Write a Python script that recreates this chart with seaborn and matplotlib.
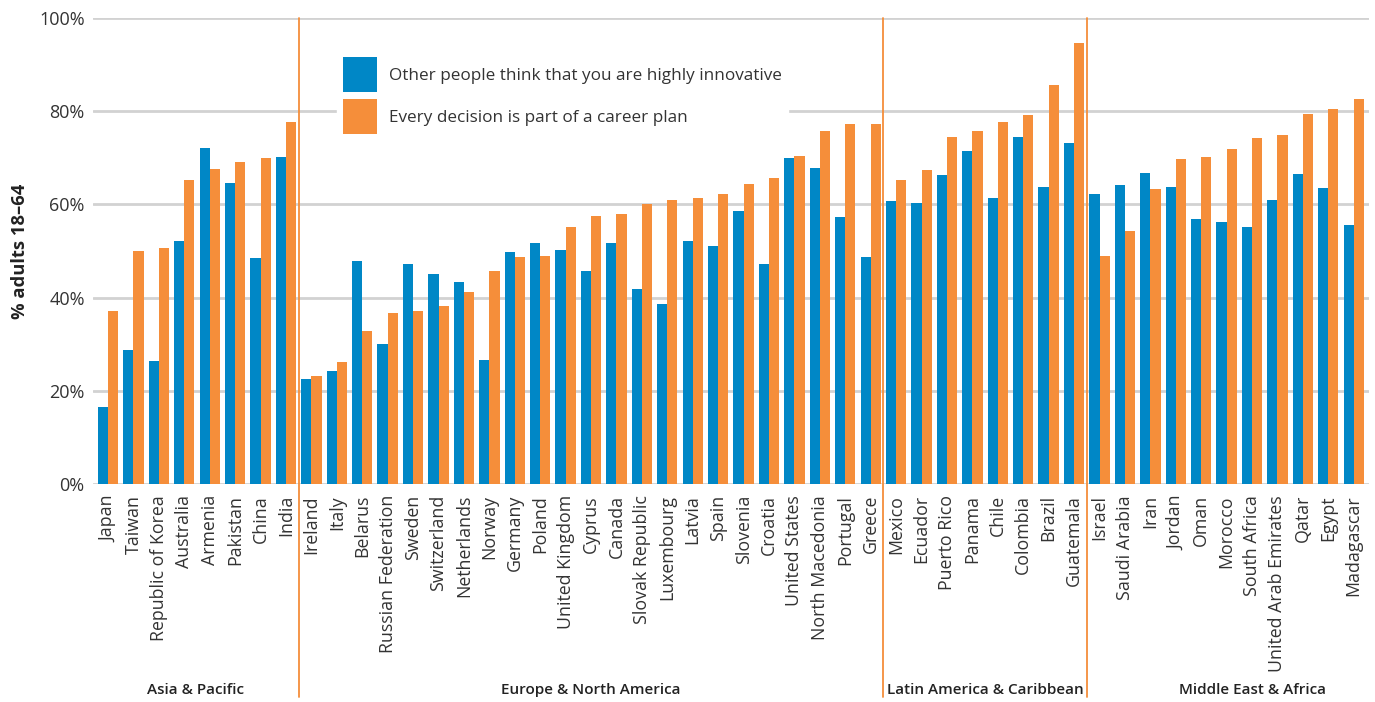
import matplotlib
matplotlib.use("Agg")
import matplotlib.pyplot as plt
import seaborn as sns
import pandas as pd

countries = ["Japan", "Taiwan", "Republic of Korea", "Australia", "Armenia", "Pakistan", "China", "India",
             "Ireland", "Italy", "Belarus", "Russian Federation", "Sweden", "Switzerland", "Netherlands",
             "Norway", "Germany", "Poland", "United Kingdom", "Cyprus", "Canada", "Slovak Republic",
             "Luxembourg", "Latvia", "Spain", "Slovenia", "Croatia", "United States", "North Macedonia",
             "Portugal", "Greece",
             "Mexico", "Ecuador", "Puerto Rico", "Panama", "Chile", "Colombia", "Brazil", "Guatemala",
             "Israel", "Saudi Arabia", "Iran", "Jordan", "Oman", "Morocco", "South Africa",
             "United Arab Emirates", "Qatar", "Egypt", "Madagascar"]

innovative = [16.6, 28.8, 26.4, 52.1, 72.1, 64.6, 48.5, 70.1,
              22.6, 24.3, 47.9, 30.1, 47.2, 45.1, 43.4, 26.6, 49.8, 51.7, 50.2, 45.7, 51.7, 41.9,
              38.6, 52.1, 51.1, 58.6, 47.2, 69.9, 67.8, 57.3, 48.7,
              60.7, 60.3, 66.3, 71.4, 61.4, 74.4, 63.7, 73.1,
              62.2, 64.1, 66.7, 63.7, 56.9, 56.2, 55.1, 60.9, 66.5, 63.5, 55.6]

career_plan = [37.1, 50.0, 50.6, 65.2, 67.6, 69.1, 69.9, 77.6,
               23.2, 26.2, 32.9, 36.7, 37.1, 38.2, 41.2, 45.7, 48.7, 48.9, 55.1, 57.5, 57.9, 60.1,
               60.9, 61.4, 62.2, 64.4, 65.6, 70.4, 75.7, 77.2, 77.2,
               65.2, 67.4, 74.4, 75.7, 77.6, 79.1, 85.6, 94.6,
               48.9, 54.3, 63.3, 69.7, 70.1, 71.9, 74.2, 74.9, 79.4, 80.4, 82.6]

series_names = ["Other people think that you are highly innovative",
                "Every decision is part of a career plan"]
regions = ["Asia & Pacific", "Europe & North America", "Latin America & Caribbean", "Middle East & Africa"]
region_sizes = [8, 23, 8, 11]
y_ticks = [0, 20, 40, 60, 80, 100]
y_tick_labels = ["0%", "20%", "40%", "60%", "80%", "100%"]

BLUE = "#0087C6"
ORANGE = "#F58E3A"

df = pd.DataFrame({
    "country": countries * 2,
    "value": innovative + career_plan,
    "series": [series_names[0]] * len(countries) + [series_names[1]] * len(countries),
})

sns.set_theme(style="white")
plt.rcParams["font.family"] = ["Open Sans", "DejaVu Sans"]

fig = plt.figure(figsize=(13.75, 7.02), dpi=100)
ax = fig.add_axes([93 / 1375, 1 - 484 / 702, (1369 - 93) / 1375, (484 - 18) / 702])

sns.barplot(data=df, x="country", y="value", hue="series", order=countries,
            hue_order=series_names, palette=[BLUE, ORANGE], width=0.8,
            saturation=1, ax=ax, errorbar=None, zorder=3, linewidth=0)

ax.set_ylim(0, 100)
ax.set_xlim(-0.59, 49.6)
ax.set_yticks(y_ticks)
ax.set_yticklabels(y_tick_labels, fontsize=13, color="#333333")
ax.yaxis.grid(True, color="#d2d2d2", linewidth=2, zorder=0)
ax.set_axisbelow(True)
ax.xaxis.grid(False)
for s in ax.spines.values():
    s.set_visible(False)
ax.tick_params(axis="x", length=0, pad=8, labelsize=12.8, labelcolor="#333333")
ax.tick_params(axis="y", length=0, pad=6)
plt.setp(ax.get_xticklabels(), rotation=90, ha="center", va="top")
ax.set_xlabel("")
ax.set_ylabel("% adults 18\u201364", fontsize=13.2, fontweight="bold", color="#222222", labelpad=7)

# region separators and labels
trans = ax.get_xaxis_transform()
bounds = [-0.59]
acc = 0
for n in region_sizes:
    acc += n
    bounds.append(acc - 0.5)
bounds[-1] = 51.5
for b in bounds[1:-1]:
    ax.plot([b, b], [-0.457, 1.0], transform=trans, color=ORANGE, linewidth=1.3,
            clip_on=False, zorder=4)
for i, name in enumerate(regions):
    cx = (bounds[i] + bounds[i + 1]) / 2
    ax.text(cx, -0.442, name, transform=trans, ha="center", va="center",
            fontsize=11, fontweight="semibold", color="#222222")

sns.move_legend(ax, "upper left", bbox_to_anchor=(0.191, 0.929), title=None,
                frameon=True, framealpha=1, facecolor="white", edgecolor="white",
                fontsize=12.3, handlelength=2.0, handleheight=2.75, labelspacing=0.45,
                handletextpad=0.7, borderpad=0.35, fancybox=False, borderaxespad=0)
leg = ax.get_legend()
leg.set_zorder(5)
for t in leg.get_texts():
    t.set_color("#333333")

fig.savefig("out.png", dpi=100)
